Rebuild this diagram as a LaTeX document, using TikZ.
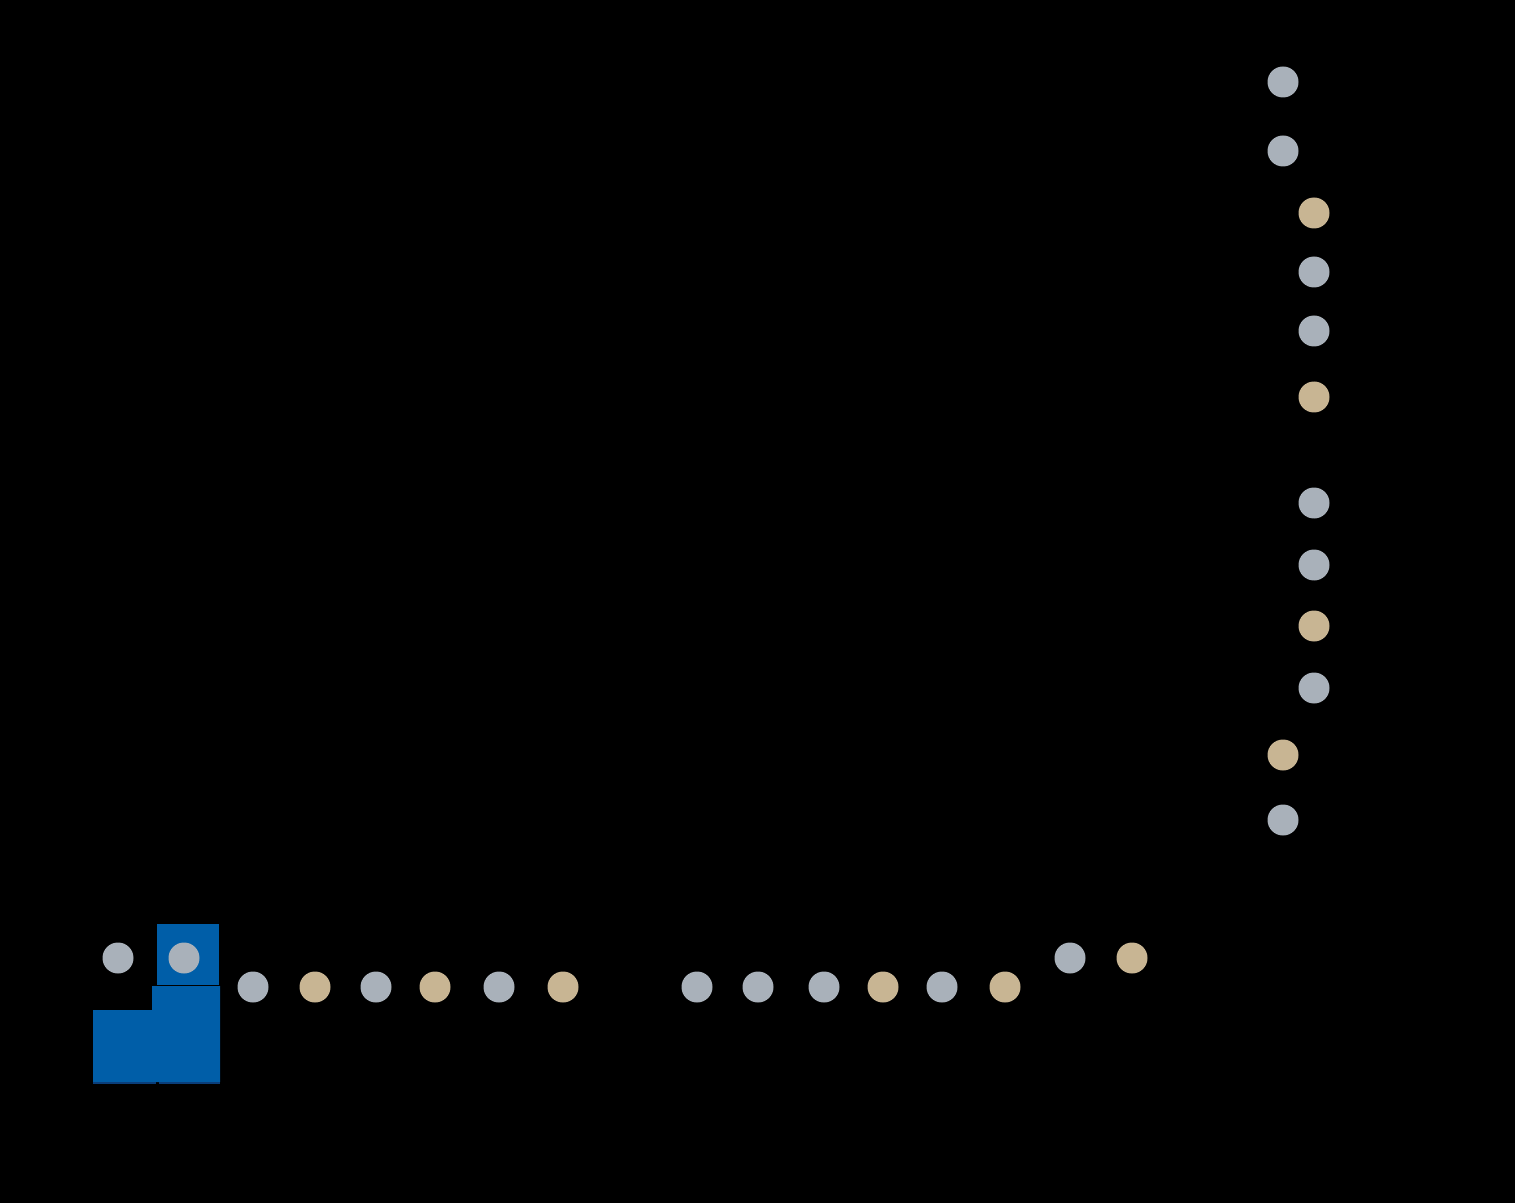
\documentclass[tikz,border=0pt]{standalone}
\definecolor{dotgray}{HTML}{A9B1BA}
\definecolor{dottan}{HTML}{C8B593}
\definecolor{blockblue}{HTML}{005EA8}
\definecolor{lineblue}{HTML}{0A3E7A}
\tikzset{
  gdot/.style={circle, fill=dotgray, draw=none, minimum size=31*0.5pt, inner sep=0pt},
  tdot/.style={circle, fill=dottan, draw=none, minimum size=31*0.5pt, inner sep=0pt},
  block/.style={fill=blockblue, draw=none}
}
\begin{document}
\begin{tikzpicture}[x=0.5pt,y=-0.5pt]
\fill[black] (0,0) rectangle (1515,1203);
\useasboundingbox (0,0) rectangle (1515,1203);
% blue blocks
\fill[block] (157,924) rectangle (219,985);
\fill[block] (93,1010) -- (152,1010) -- (152,986) -- (220,986) -- (220,1082) -- (93,1082) -- cycle;
\draw[lineblue, line width=1.2pt] (93,1083) -- (156,1083);
\draw[lineblue, line width=1.2pt] (159,1083) -- (220,1083);
% right column
\node[gdot] (r1) at (1283,82) {};
\node[gdot] (r2) at (1283,151) {};
\node[tdot] (r3) at (1314,213) {};
\node[gdot] (r4) at (1314,272) {};
\node[gdot] (r5) at (1314,331) {};
\node[tdot] (r6) at (1314,397) {};
\node[gdot] (r7) at (1314,503) {};
\node[gdot] (r8) at (1314,565) {};
\node[tdot] (r9) at (1314,626) {};
\node[gdot] (r10) at (1314,688) {};
\node[tdot] (r11) at (1283,755) {};
\node[gdot] (r12) at (1283,820) {};
% bottom row
\node[gdot] (b1) at (118,958) {};
\node[gdot] (b2) at (184,958) {};
\node[gdot] (b3) at (253,987) {};
\node[tdot] (b4) at (315,987) {};
\node[gdot] (b5) at (376,987) {};
\node[tdot] (b6) at (435,987) {};
\node[gdot] (b7) at (499,987) {};
\node[tdot] (b8) at (563,987) {};
\node[gdot] (b9) at (697,987) {};
\node[gdot] (b10) at (758,987) {};
\node[gdot] (b11) at (824,987) {};
\node[tdot] (b12) at (883,987) {};
\node[gdot] (b13) at (942,987) {};
\node[tdot] (b14) at (1005,987) {};
\node[gdot] (b15) at (1070,958) {};
\node[tdot] (b16) at (1132,958) {};
\end{tikzpicture}
\end{document}
